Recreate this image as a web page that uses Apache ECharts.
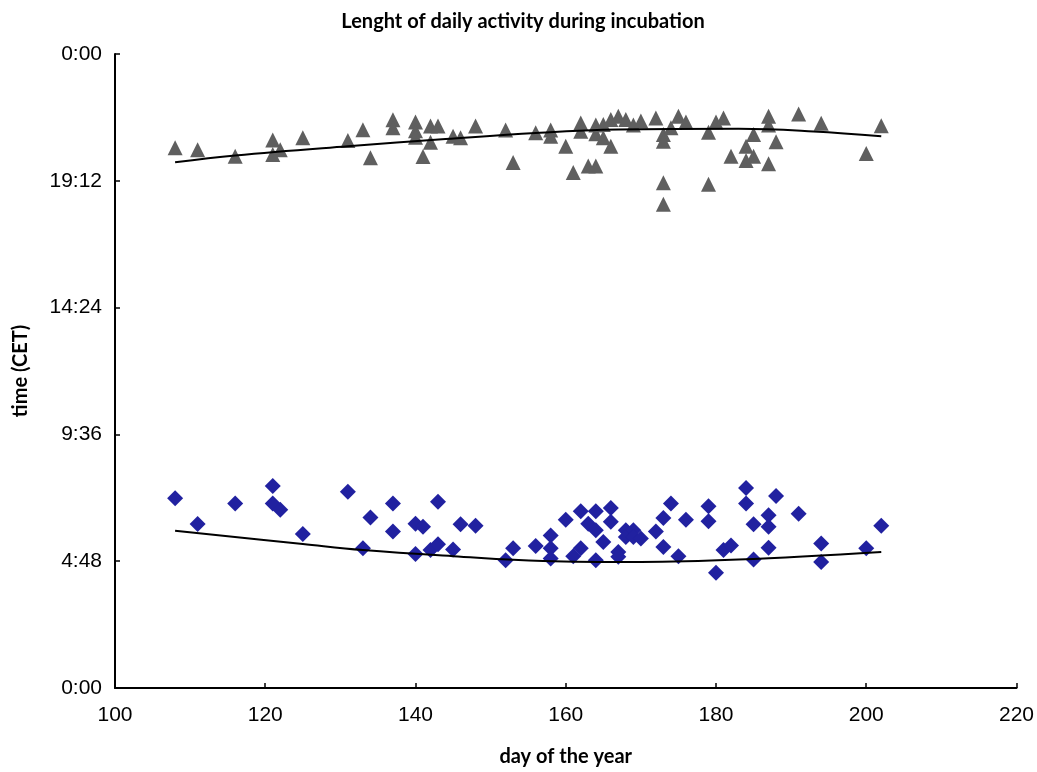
<!DOCTYPE html>
<html>
<head>
<meta charset="utf-8">
<title>Lenght of daily activity during incubation</title>
<script src="https://cdn.jsdelivr.net/npm/echarts@6/dist/echarts.min.js"></script>
<style>
  html, body { margin: 0; padding: 0; background: #fff; }
  #chart { width: 1037px; height: 772px; }
</style>
</head>
<body>
<div id="chart"></div>
<script>
// End of daily activity (evening): day of year and time in decimal hours CET
const endDays = [108, 111, 116, 121, 121, 122, 125, 131, 133, 134, 137, 137, 140, 140, 140, 141, 142, 143, 142,
  145, 146, 148, 152, 153, 156, 158, 158, 160, 161, 162, 162, 163, 164, 164, 164, 165, 165, 166, 166, 167,
  168, 169, 170, 172, 173, 173, 173, 173, 174, 175, 176, 179, 179, 180, 181, 182, 184, 184, 185, 185, 187,
  187, 187, 188, 191, 194, 200, 202];
const endTimes = [20.45, 20.38, 20.13, 20.74, 20.2, 20.38, 20.83, 20.73, 21.13, 20.07, 21.51, 21.21, 21.43, 21.09, 20.85, 20.12, 21.27, 21.27, 20.66,
  20.89, 20.83, 21.27, 21.12, 19.89, 21.02, 21.12, 20.89, 20.51, 19.51, 21.39, 21.08, 19.76, 19.76, 21.31, 20.98, 21.33, 20.83, 20.51, 21.52, 21.64,
  21.52, 21.31, 21.46, 21.58, 20.95, 20.7, 19.13, 18.31, 21.21, 21.64, 21.43, 21.04, 19.07, 21.43, 21.58, 20.13, 20.51, 19.97, 20.13, 20.95, 21.64,
  21.31, 19.85, 20.68, 21.73, 21.38, 20.23, 21.28];

// Start of daily activity (morning)
const startDays = [108, 111, 116, 121, 121, 122, 125, 131, 133, 134, 137, 137, 140, 140, 141, 142, 143, 143, 145,
  146, 148, 152, 153, 156, 158, 158, 158, 160, 161, 162, 162, 163, 164, 164, 164, 165, 166, 166, 167, 167,
  168, 168, 169, 169, 170, 172, 173, 173, 174, 175, 176, 179, 179, 180, 181, 182, 184, 184, 185, 185, 187,
  187, 187, 188, 191, 194, 194, 200, 202];
const startTimes = [7.18, 6.21, 6.98, 7.65, 6.98, 6.75, 5.83, 7.43, 5.29, 6.45, 6.98, 5.92, 5.07, 6.22, 6.1, 5.22, 5.44, 7.05, 5.24,
  6.2, 6.14, 4.84, 5.29, 5.38, 5.77, 5.29, 4.9, 6.37, 4.99, 5.29, 6.69, 6.22, 6.69, 4.84, 5.97, 5.53, 6.81, 6.29, 5.15, 4.97,
  5.97, 5.72, 5.97, 5.72, 5.66, 5.92, 6.44, 5.34, 6.98, 4.99, 6.37, 6.88, 6.31, 4.36, 5.22, 5.39, 7.57, 6.98, 6.2, 4.86, 6.54,
  6.1, 5.31, 7.27, 6.6, 5.47, 4.77, 5.29, 6.14];

// Polynomial trend curves, sampled along the day range
const endTrendDays = [108, 116, 131, 144, 156, 167, 183, 193, 202];
const endTrendTimes = [19.9, 20.16, 20.51, 20.78, 21.01, 21.14, 21.17, 21.07, 20.89];
const startTrendDays = [108, 125, 133, 145, 157, 170, 183, 202];
const startTrendTimes = [5.95, 5.45, 5.22, 4.99, 4.81, 4.77, 4.86, 5.15];

// Axis ticks
const xTicks = [100, 120, 140, 160, 180, 200, 220];
const yTickHours = [0, 4.8, 9.6, 14.4, 19.2, 24];

const zip = (a, b) => a.map((v, i) => [v, b[i]]);

function hourLabel(v) {
  const m = Math.round(v * 60) % 1440;
  return Math.floor(m / 60) + ':' + String(m % 60).padStart(2, '0');
}

const chart = echarts.init(document.getElementById('chart'), null, { renderer: 'canvas' });

const axisFont = { fontFamily: 'Liberation Sans, Arial, sans-serif', fontSize: 21, color: '#000' };
const nameFont = { fontFamily: 'Lato, sans-serif', fontSize: 20, fontWeight: 'bold', color: '#000' };

chart.setOption({
  animation: false,
  backgroundColor: '#fff',
  title: {
    text: 'Lenght of daily activity during incubation',
    left: 518,
    textAlign: 'center',
    top: 7,
    textStyle: { fontFamily: 'Lato, sans-serif', fontSize: 20, fontWeight: 'bold', color: '#000' }
  },
  grid: { left: 115, right: 20, top: 54, bottom: 74 },
  xAxis: {
    type: 'value',
    min: xTicks[0],
    max: xTicks[xTicks.length - 1],
    interval: 20,
    name: 'day of the year',
    nameLocation: 'middle',
    nameGap: 59,
    nameTextStyle: nameFont,
    axisLine: { lineStyle: { color: '#000', width: 2 } },
    axisTick: { inside: true, length: 5, lineStyle: { color: '#000', width: 1.5 } },
    axisLabel: Object.assign({ margin: 17 }, axisFont),
    splitLine: { show: false }
  },
  yAxis: {
    type: 'value',
    min: yTickHours[0],
    max: yTickHours[yTickHours.length - 1],
    interval: 4.8,
    name: 'time (CET)',
    nameLocation: 'middle',
    nameGap: 84,
    nameTextStyle: nameFont,
    axisLine: { show: true, lineStyle: { color: '#000', width: 2 } },
    axisTick: { show: true, inside: true, length: 5, lineStyle: { color: '#000', width: 1.5 } },
    axisLabel: Object.assign({ margin: 13, formatter: hourLabel }, axisFont),
    splitLine: { show: false }
  },
  series: [
    {
      name: 'end of activity',
      type: 'scatter',
      symbol: 'triangle',
      symbolSize: [15, 15],
      itemStyle: { color: '#5f5f5f', opacity: 1 },
      data: zip(endDays, endTimes),
      z: 2
    },
    {
      name: 'start of activity',
      type: 'scatter',
      symbol: 'diamond',
      symbolSize: [16, 16],
      itemStyle: { color: '#2121a0', opacity: 1 },
      data: zip(startDays, startTimes),
      z: 2
    },
    {
      name: 'end trend',
      type: 'line',
      smooth: 0.4,
      showSymbol: false,
      lineStyle: { color: '#000', width: 2 },
      data: zip(endTrendDays, endTrendTimes),
      z: 3
    },
    {
      name: 'start trend',
      type: 'line',
      smooth: 0.4,
      showSymbol: false,
      lineStyle: { color: '#000', width: 2 },
      data: zip(startTrendDays, startTrendTimes),
      z: 3
    }
  ]
});
</script>
</body>
</html>
